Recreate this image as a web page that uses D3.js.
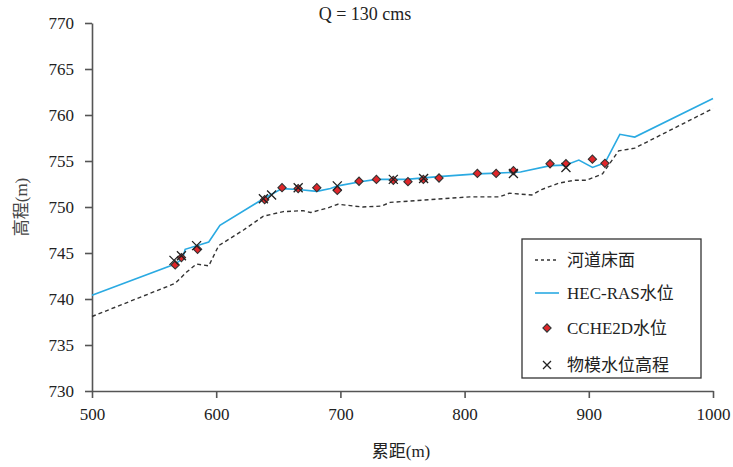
<!DOCTYPE html>
<html>
<head>
<meta charset="utf-8">
<script src="https://cdn.jsdelivr.net/npm/d3@7"></script>
<style>
  body { margin: 0; background: #fff; }
  svg text { font-family: "Liberation Serif", "Times New Roman", "Noto Sans CJK SC", serif; fill: #222; }
</style>
</head>
<body>
<div id="chart"></div>
<script>
// 河道床面 (bed profile)
var bedX = [500, 567, 576, 584, 594, 602, 622, 638, 654, 670, 676, 690, 698, 718, 733, 740, 772, 804, 828, 836, 854, 862, 876, 888, 898, 911, 924, 937, 1000];
var bedY = [738.1, 741.7, 742.9, 743.8, 743.6, 745.8, 747.5, 749.0, 749.5, 749.6, 749.4, 749.9, 750.3, 750.0, 750.1, 750.5, 750.8, 751.1, 751.1, 751.5, 751.3, 751.9, 752.6, 752.9, 752.9, 753.6, 756.1, 756.4, 760.7];

// HEC-RAS水位
var hecX = [500, 567, 573, 575, 594, 603, 638, 653, 666, 681, 692, 698, 716, 729, 753, 779, 810, 821, 845, 869, 881, 892, 903, 913, 925, 937, 1000];
var hecY = [740.4, 743.8, 744.4, 745.4, 746.2, 748.0, 750.9, 752.0, 751.9, 751.7, 752.0, 752.3, 752.75, 753.0, 753.0, 753.3, 753.6, 753.65, 753.8, 754.5, 754.55, 755.1, 754.3, 754.8, 757.9, 757.6, 761.8];

// CCHE2D水位
var ccheX = [567, 572, 585, 639, 653, 666, 681, 697.5, 715, 729, 742.6, 754.4, 766.8, 779.4, 810.3, 825.4, 839.3, 868.8, 881.6, 902.9, 913];
var ccheY = [743.7, 744.5, 745.4, 750.8, 752.1, 752.0, 752.1, 751.8, 752.8, 753.0, 752.9, 752.75, 753.0, 753.15, 753.65, 753.65, 753.95, 754.7, 754.7, 755.2, 754.75];

// 物模水位高程
var physX = [566, 572, 584.2, 638, 644.6, 666, 697.5, 742.6, 767, 839.3, 881.6];
var physY = [744.2, 744.7, 745.8, 750.9, 751.3, 752.1, 752.3, 753.0, 753.1, 753.65, 754.3];

var xTicks = [500, 600, 700, 800, 900, 1000];
var yTicks = [730, 735, 740, 745, 750, 755, 760, 765, 770];

var legendLabels = ["河道床面", "HEC-RAS水位", "CCHE2D水位", "物模水位高程"];

var width = 733, height = 467;
var margin = { left: 92, right: 20, top: 23, bottom: 76 };

var svg = d3.select("#chart").append("svg")
  .attr("width", width)
  .attr("height", height);

var x = d3.scaleLinear().domain([500, 1000]).range([margin.left, 713]);
var y = d3.scaleLinear().domain([730, 770]).range([391, margin.top]);

function zip(xs, ys) {
  return xs.map(function (v, i) { return [v, ys[i]]; });
}

// axes
var xAxis = svg.append("g")
  .attr("transform", "translate(0," + y(730) + ")")
  .call(d3.axisBottom(x).tickValues(xTicks).tickFormat(d3.format("d"))
    .tickSize(7).tickSizeOuter(0).tickPadding(10));
var yAxis = svg.append("g")
  .attr("transform", "translate(" + x(500) + ",0)")
  .call(d3.axisLeft(y).tickValues(yTicks).tickFormat(d3.format("d"))
    .tickSize(7).tickSizeOuter(0).tickPadding(11));

[xAxis, yAxis].forEach(function (a) {
  a.select(".domain").attr("stroke", "#555").attr("stroke-width", 1.6);
  a.selectAll(".tick line").attr("stroke", "#555").attr("stroke-width", 1.6);
  a.selectAll(".tick text").attr("font-size", 17).attr("fill", "#222")
    .style("font-family", "'Liberation Serif', serif");
});

var line = d3.line()
  .x(function (d) { return x(d[0]); })
  .y(function (d) { return y(d[1]); });

// bed
svg.append("path")
  .datum(zip(bedX, bedY))
  .attr("d", line)
  .attr("fill", "none")
  .attr("stroke", "#333")
  .attr("stroke-width", 1.4)
  .attr("stroke-dasharray", "4,3");

// HEC-RAS
svg.append("path")
  .datum(zip(hecX, hecY))
  .attr("d", line)
  .attr("fill", "none")
  .attr("stroke", "#2aaae2")
  .attr("stroke-width", 1.6);

// CCHE2D diamonds
var diamond = d3.symbol().type(d3.symbolSquare).size(34);
svg.append("g").selectAll("path")
  .data(zip(ccheX, ccheY))
  .enter().append("path")
  .attr("d", diamond)
  .attr("transform", function (d) { return "translate(" + x(d[0]) + "," + y(d[1]) + ") rotate(45)"; })
  .attr("fill", "#e0262a")
  .attr("stroke", "#333")
  .attr("stroke-width", 1.1);

// physical model crosses
function crossPath(s) {
  return "M" + (-s) + "," + (-s) + "L" + s + "," + s + "M" + (-s) + "," + s + "L" + s + "," + (-s);
}
svg.append("g").selectAll("path")
  .data(zip(physX, physY))
  .enter().append("path")
  .attr("d", crossPath(4.5))
  .attr("transform", function (d) { return "translate(" + x(d[0]) + "," + y(d[1]) + ")"; })
  .attr("fill", "none")
  .attr("stroke", "#222")
  .attr("stroke-width", 1.3);

// title
svg.append("text")
  .attr("x", 365)
  .attr("y", 20)
  .attr("text-anchor", "middle")
  .attr("font-size", 18)
  .text("Q = 130 cms");

// axis titles
svg.append("text")
  .attr("x", 401)
  .attr("y", 457)
  .attr("text-anchor", "middle")
  .attr("font-size", 17)
  .text("累距(m)");

svg.append("text")
  .attr("transform", "translate(27,207) rotate(-90)")
  .attr("text-anchor", "middle")
  .attr("font-size", 17)
  .style("fill", "#444")
  .text("高程(m)");

// legend
var lg = svg.append("g").attr("transform", "translate(522,239)");
lg.append("rect")
  .attr("width", 179)
  .attr("height", 139)
  .attr("fill", "#fff")
  .attr("stroke", "#333")
  .attr("stroke-width", 1.3);

var rowY = [21, 54, 89, 126];
var items = lg.selectAll("g.item")
  .data(legendLabels)
  .enter().append("g")
  .attr("class", "item")
  .attr("transform", function (d, i) { return "translate(0," + rowY[i] + ")"; });

items.append("text")
  .attr("x", 45)
  .attr("y", 0)
  .attr("dy", "0.35em")
  .attr("font-size", 17)
  .text(function (d) { return d; });

items.each(function (d, i) {
  var g = d3.select(this);
  if (i === 0) {
    g.append("line").attr("x1", 13).attr("x2", 37).attr("y1", 0).attr("y2", 0)
      .attr("stroke", "#333").attr("stroke-width", 1.3).attr("stroke-dasharray", "3,3");
  } else if (i === 1) {
    g.append("line").attr("x1", 13).attr("x2", 37).attr("y1", 0).attr("y2", 0)
      .attr("stroke", "#2aaae2").attr("stroke-width", 1.6);
  } else if (i === 2) {
    g.append("path").attr("d", diamond)
      .attr("transform", "translate(25,0) rotate(45)")
      .attr("fill", "#e0262a").attr("stroke", "#333").attr("stroke-width", 1.1);
  } else {
    g.append("path").attr("d", crossPath(4))
      .attr("transform", "translate(25,0)")
      .attr("fill", "none").attr("stroke", "#222").attr("stroke-width", 1.3);
  }
});
</script>
</body>
</html>
